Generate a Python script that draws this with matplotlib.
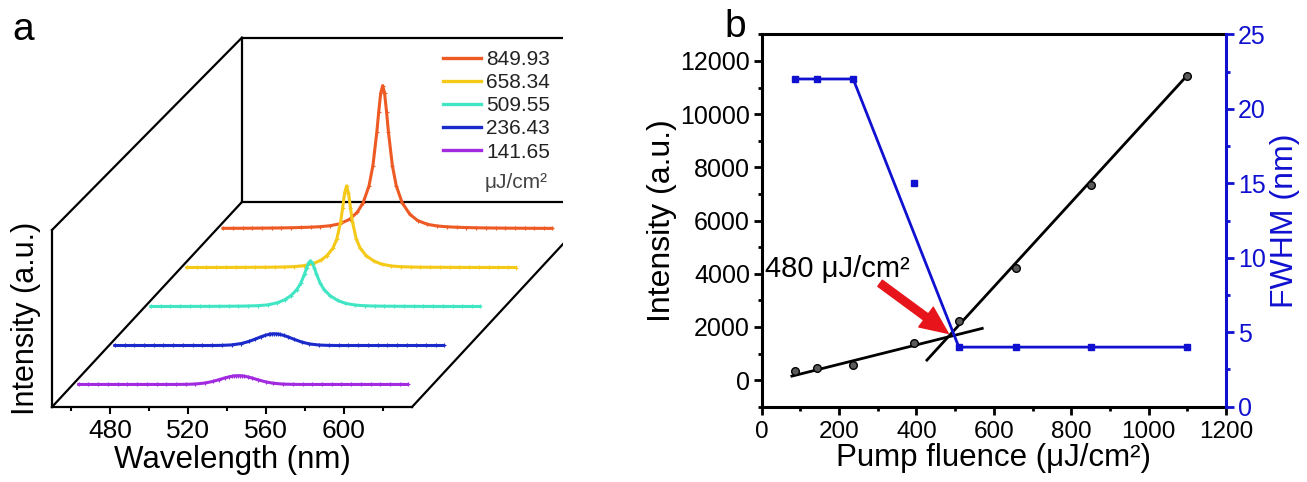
import numpy as np
import matplotlib
matplotlib.use('Agg')
import matplotlib.pyplot as plt
from matplotlib.lines import Line2D
from matplotlib.ticker import MultipleLocator
from matplotlib.transforms import Affine2D, Bbox, TransformedBbox

plt.rcParams['font.family'] = ['Liberation Sans', 'DejaVu Sans']

W, H = 1307, 482

# ---- panel a: emission spectra on a common wavelength grid (nm) ----
wavelength = [453, 458, 463, 468, 473, 478, 483, 488, 493, 498,
              503, 508, 513, 518, 522, 525, 528, 530, 532, 533, 534,
              535,
              536, 537, 538, 540, 542, 545, 549, 553, 558, 563, 568,
              573, 578, 583, 588, 593, 598, 603, 608, 613, 618, 622]
spec_849 = [16, 18, 20, 24, 27, 32, 39, 47, 59, 76,
            102, 150, 250, 478, 849, 1336, 2202, 3241, 4949, 6021, 6959,
            7350,
            6959, 6021, 4949, 3241, 2202, 1336, 733, 416, 222, 137, 96,
            72, 56, 45, 37, 31, 26, 23, 20, 17, 15, 14]
spec_658 = [5, 5, 6, 7, 8, 10, 12, 15, 18, 23,
            32, 51, 96, 210, 393, 621, 1001, 1468, 2368, 3078, 3836,
            4200,
            3836, 3078, 2368, 1468, 1001, 621, 337, 178, 83, 46, 30,
            22, 17, 14, 12, 10, 8, 7, 6, 5, 5, 4]
spec_510 = [4, 5, 5, 6, 7, 9, 10, 13, 16, 20,
            28, 45, 86, 193, 362, 566, 874, 1197, 1688, 1986, 2243,
            2350,
            2243, 1986, 1688, 1197, 874, 566, 311, 163, 74, 40, 25,
            19, 15, 12, 10, 8, 7, 6, 5, 5, 4, 4]
spec_236 = [0, 0, 0, 0, 0, 0, 0, 0, 0, 0,
            1, 7, 30, 101, 211, 324, 443, 514, 568, 586, 596,
            600,
            596, 586, 568, 514, 443, 324, 179, 81, 23, 5, 0,
            0, 0, 0, 0, 0, 0, 0, 0, 0, 0, 0]
spec_142 = [0, 0, 0, 0, 0, 0, 0, 0, 0, 0,
            1, 5, 23, 76, 158, 243, 333, 386, 426, 439, 447,
            450,
            447, 439, 426, 386, 333, 243, 134, 61, 17, 4, 0,
            0, 0, 0, 0, 0, 0, 0, 0, 0, 0, 0]
spectra = [spec_849, spec_658, spec_510, spec_236, spec_142]
spec_labels = ['849.93', '658.34', '509.55', '236.43', '141.65']
spec_colors = ['#EE5A24', '#F4C918', '#40E6C4', '#1A2ACB', '#A22BE0']
depth = [0.87, 0.68, 0.49, 0.30, 0.11]      # 0 = front wall, 1 = back wall

WL_MIN, WL_MAX = 450, 635
I_FRONT, I_BACK = 9100, 8450                 # box heights (front / back)
DEPTH_WL, DEPTH_I = 97.6, 10540              # oblique depth direction, data units

# ---- panel b: threshold ----
fluence = [85, 141.65, 236.43, 393, 509.55, 658.34, 849.93, 1100]
intensity = [340, 450, 580, 1400, 2230, 4200, 7350, 11450]
fwhm = [22, 22, 22, 15, 4, 4, 4, 4]
fwhm_on_line = [True, True, True, False, True, True, True, True]
fit_low_x, fit_low_y = [78, 570], [150, 1944]
fit_high_x, fit_high_y = [427, 1100], [752, 11457]
BLUE = '#1010D0'

fig = plt.figure(figsize=(W / 100, H / 100), dpi=100)

# ---------------- panel a ----------------
axa = fig.add_axes([52 / W, 1 - 407 / H, 360 / W, 177 / H])
axa.set_xlim(WL_MIN, WL_MAX)
axa.set_ylim(0, I_FRONT)
clip = TransformedBbox(Bbox.from_extents(0, 0, 563 / W, 1), fig.transFigure)

def boxline(xs, ys, tr):
    ln, = axa.plot(xs, ys, color='black', lw=1.6, transform=tr + axa.transData,
                   zorder=1)
    ln.set_clip_path(None)
    ln.set_clip_box(clip)

floor = Affine2D(np.array([[1, DEPTH_WL, 0], [0, DEPTH_I, 0], [0, 0, 1]]))
side = Affine2D(np.array([[DEPTH_WL, 0, WL_MIN], [DEPTH_I, 1, 0], [0, 0, 1]]))
back = Affine2D().translate(DEPTH_WL, DEPTH_I)
boxline([WL_MIN, WL_MIN], [0, 1], floor)
boxline([WL_MAX, WL_MAX], [0, 1], floor)
boxline([0, 1], [I_FRONT, I_BACK], side)
boxline([WL_MIN, WL_MIN], [0, I_BACK], back)
boxline([WL_MIN, WL_MAX], [0, 0], back)
boxline([WL_MIN, WL_MAX], [I_BACK, I_BACK], back)

for i, (spec, col, z) in enumerate(zip(spectra, spec_colors, depth)):
    tr = Affine2D().translate(z * DEPTH_WL, z * DEPTH_I) + axa.transData
    axa.plot(wavelength, spec, color=col, lw=2.2, marker='+', ms=3.5, mew=0.8,
             transform=tr, clip_on=False, zorder=3 + i)

handles = [Line2D([], [], color=c, lw=2.4) for c in spec_colors]
fig.legend(handles, spec_labels, loc='upper right',
           bbox_to_anchor=(550 / W, 1 - 50 / H), frameon=False, fontsize=15,
           handlelength=1.8, handletextpad=0.25, labelspacing=0.2,
           borderpad=0, borderaxespad=0, labelcolor='#222222')
fig.text(548 / W, 1 - 183 / H, 'μJ/cm²', ha='right', va='center',
         fontsize=15, color='#444444')

for s in ('top', 'right'):
    axa.spines[s].set_visible(False)
for s in ('left', 'bottom'):
    axa.spines[s].set_linewidth(1.6)
axa.set_xticks([480, 520, 560, 600])
axa.set_xticks([460, 500, 540, 580, 620], minor=True)
axa.set_yticks([])
axa.tick_params(axis='x', which='major', length=5, width=1.5, labelsize=19, pad=4)
axa.tick_params(axis='x', which='minor', length=3, width=1.5)
axa.set_xlabel('Wavelength (nm)', fontsize=22.5, labelpad=1)
axa.set_ylabel('Intensity (a.u.)', fontsize=22, labelpad=8)
fig.text(23 / W, 1 - 30 / H, 'a', fontsize=28, ha='center', va='center')

# ---------------- panel b ----------------
axb = fig.add_axes([761.7 / W, 1 - 406.7 / H, 464.3 / W, 372.4 / H])
axb.plot(fit_low_x, fit_low_y, color='black', lw=2)
axb.plot(fit_high_x, fit_high_y, color='black', lw=2)
axb.plot(fluence, intensity, 'o', ms=5.5, mfc='#5a5a5a', mec='black', mew=1,
         zorder=4)
axb.annotate('', xy=(482, 1757), xytext=(306, 3640),
             arrowprops=dict(arrowstyle='simple,head_length=0.9,head_width=0.8,'
                                        'tail_width=0.25',
                             color='#E8141B', mutation_scale=22,
                             shrinkA=0, shrinkB=0))
axb.text(8, 3870, '480 μJ/cm²', fontsize=21, ha='left', va='baseline')
axb.set_xlim(0, 1200)
axb.set_ylim(-1000, 13000)
axb.xaxis.set_major_locator(MultipleLocator(200))
axb.xaxis.set_minor_locator(MultipleLocator(100))
axb.set_yticks(range(0, 12001, 2000))
axb.yaxis.set_minor_locator(MultipleLocator(1000))
axb.tick_params(which='both', direction='out', width=2, top=False, right=False)
axb.tick_params(which='major', length=5.5, pad=3)
axb.tick_params(which='minor', length=3)
axb.tick_params(axis='y', labelsize=18)
axb.tick_params(axis='x', labelsize=17.5, pad=4.5)
for s in ('left', 'bottom', 'top'):
    axb.spines[s].set_linewidth(2.2)
axb.spines['right'].set_visible(False)
axb.set_xlabel('Pump fluence (μJ/cm²)', fontsize=22.5, labelpad=0)
axb.set_ylabel('Intensity (a.u.)', fontsize=23, labelpad=2)

axr = axb.twinx()
fx = np.array(fluence)[fwhm_on_line]
fy = np.array(fwhm)[fwhm_on_line]
axr.plot(fx, fy, color=BLUE, lw=2)
axr.plot(fluence, fwhm, 's', color=BLUE, ms=5)
axr.set_ylim(0, 25)
axr.yaxis.set_major_locator(MultipleLocator(5))
axr.yaxis.set_minor_locator(MultipleLocator(2.5))
axr.tick_params(axis='y', which='both', direction='out', width=2, colors=BLUE,
                labelsize=18)
axr.tick_params(axis='y', which='major', length=5.5, pad=3)
axr.tick_params(axis='y', which='minor', length=3)
for s in ('left', 'bottom', 'top'):
    axr.spines[s].set_visible(False)
axr.spines['right'].set_color(BLUE)
axr.spines['right'].set_linewidth(2.2)
axr.set_ylabel('FWHM (nm)', fontsize=23, color=BLUE, labelpad=3)
fig.text(735 / W, 1 - 27 / H, 'b', fontsize=28, ha='center', va='center')

fig.savefig('out.png', dpi=100)
